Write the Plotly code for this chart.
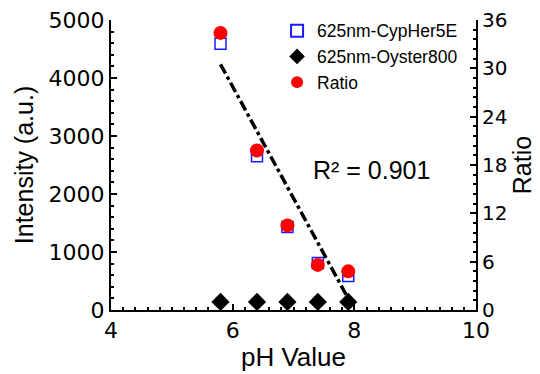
import plotly.graph_objects as go

ph = [5.8, 6.4, 6.9, 7.4, 7.9]
cypher = [4590, 2650, 1430, 810, 585]
oyster = [140, 140, 140, 140, 140]
ratio = [34.4, 19.8, 10.5, 5.6, 4.8]
fit_x = [5.8, 7.93]
fit_y = [30.5, 1.0]

FONT = "Liberation Sans, Arial, sans-serif"
TICKFONT = "DejaVu Sans, sans-serif"

fig = go.Figure()
fig.add_trace(go.Scatter(x=ph, y=cypher, mode="markers", name="625nm-CypHer5E",
                         marker=dict(symbol="square-open", size=11, color="#1a1aff",
                                     line=dict(width=1.5, color="#1a1aff"))))
fig.add_trace(go.Scatter(x=ph, y=oyster, mode="markers", name="625nm-Oyster800",
                         marker=dict(symbol="diamond", size=14, color="black")))
fig.add_trace(go.Scatter(x=ph, y=ratio, mode="markers", name="Ratio", yaxis="y2",
                         marker=dict(symbol="circle", size=14, color="#ff0000")))
fig.add_trace(go.Scatter(x=fit_x, y=fit_y, mode="lines", yaxis="y2", showlegend=False,
                         line=dict(color="black", width=3.5, dash="dashdot")))

fig.add_annotation(x=8.29, y=2410, text="R² = 0.901", showarrow=False,
                   font=dict(size=25, color="black", family=FONT))

fig.update_layout(
    width=540, height=374,
    margin=dict(l=111, r=64, t=20, b=64, autoexpand=False),
    paper_bgcolor="white", plot_bgcolor="white",
    font=dict(family=FONT, color="black"),
    showlegend=True,
    legend=dict(x=0.455, y=1.025, xanchor="left", yanchor="top",
                font=dict(size=17.5, family=FONT), bgcolor="rgba(0,0,0,0)",
                tracegroupgap=0, itemsizing="constant"),
    xaxis=dict(range=[4, 10], dtick=2, tick0=4, showline=True, linecolor="black",
               linewidth=2, ticks="inside", ticklen=6, tickwidth=2, tickcolor="black",
               minor=dict(dtick=0.2, ticks="inside", ticklen=3, tickwidth=1.5, tickcolor="black"),
               showgrid=False, zeroline=False, automargin=False,
               tickfont=dict(size=22, family=TICKFONT),
               title=dict(text="pH Value", font=dict(size=26, family=FONT), standoff=5)),
    yaxis=dict(range=[0, 5000], dtick=1000, showline=True, linecolor="black",
               linewidth=2, ticks="inside", ticklen=6, tickwidth=2, tickcolor="black",
               minor=dict(dtick=200, ticks="inside", ticklen=3, tickwidth=1.5, tickcolor="black"),
               showgrid=False, zeroline=False, automargin=False,
               tickfont=dict(size=22, family=TICKFONT),
               title=dict(text="Intensity (a.u.)", font=dict(size=25, family=FONT), standoff=8)),
    yaxis2=dict(range=[0, 36], dtick=6, overlaying="y", side="right", showline=True,
                linecolor="black", linewidth=2, ticks="inside", ticklen=6, tickwidth=2,
                tickcolor="black", automargin=False,
                minor=dict(dtick=1.2, ticks="inside", ticklen=3, tickwidth=1.5, tickcolor="black"),
                showgrid=False, zeroline=False,
                tickfont=dict(size=20, family=TICKFONT),
                title=dict(text="Ratio", font=dict(size=25, family=FONT), standoff=7)),
)

fig.write_html("out.html")
